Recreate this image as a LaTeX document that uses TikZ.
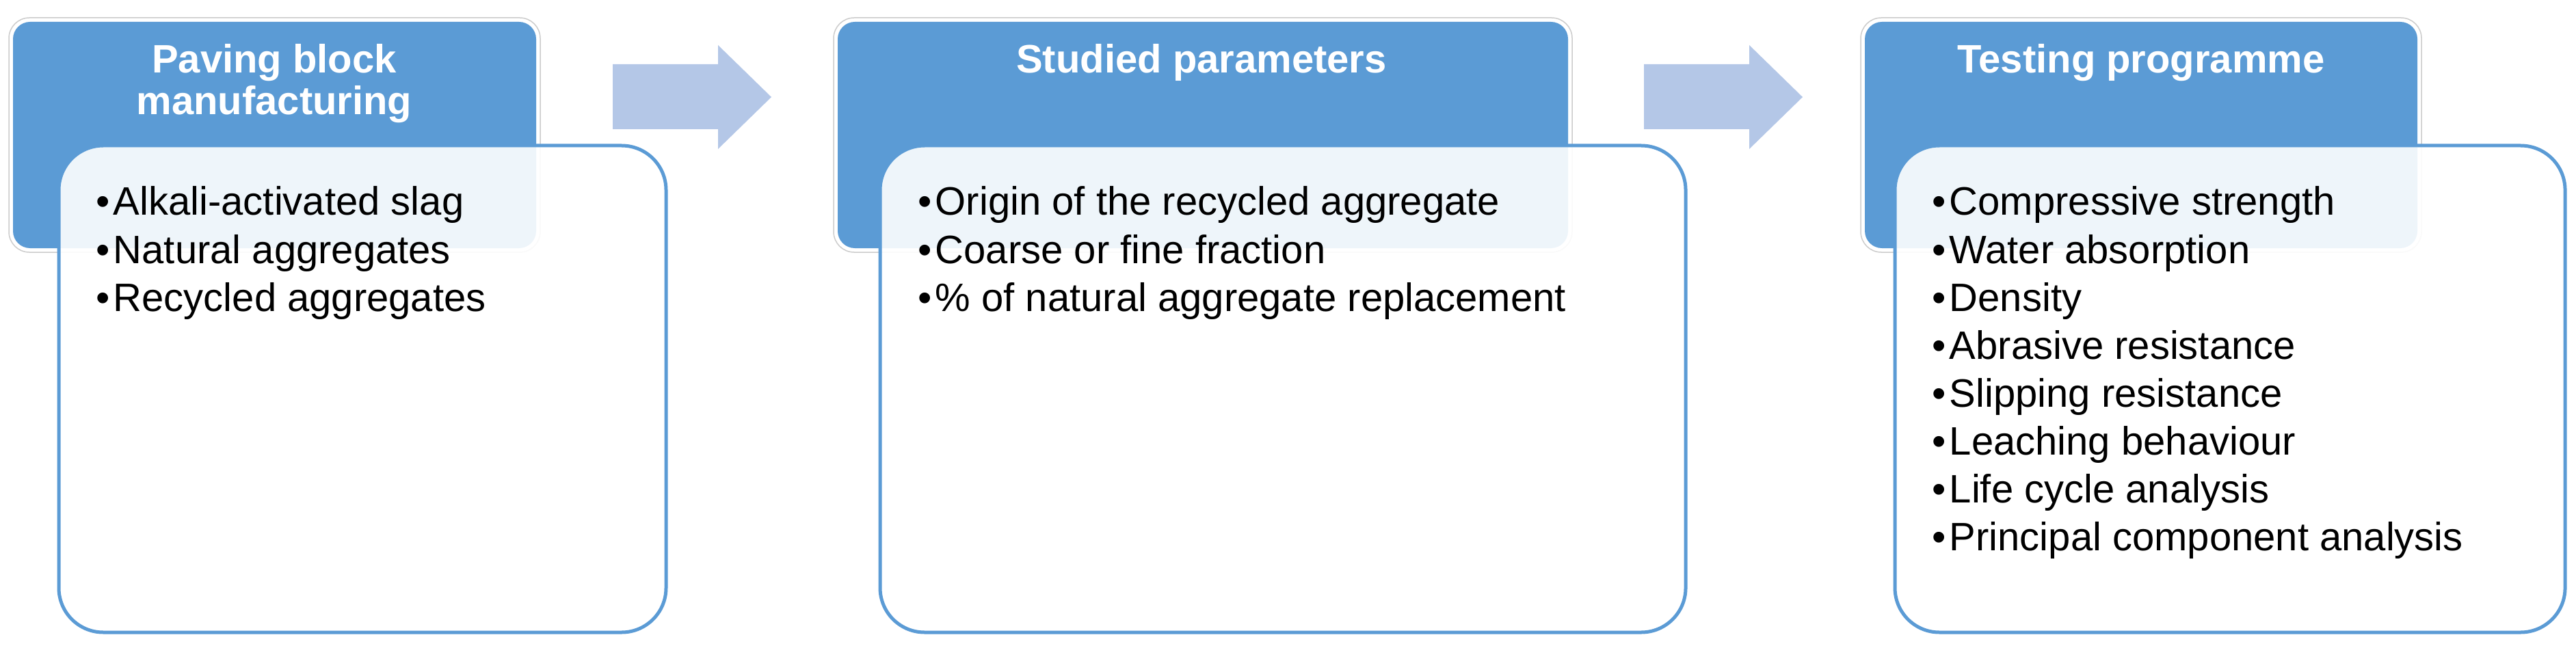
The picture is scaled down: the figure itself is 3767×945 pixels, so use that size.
\documentclass[tikz,border=0pt]{standalone}
\usepackage{fontspec}
\setmainfont{Liberation Sans}
\usetikzlibrary{fit}
\definecolor{hdr}{HTML}{5B9BD5}
\definecolor{arr}{HTML}{B4C7E7}
\begin{document}
\begin{tikzpicture}[x=0.2pt,y=-0.2pt,
  halo/.style={draw=black!20, line width=0.3pt, fill=white, rounded corners=6pt, inner sep=0pt},
  hdrbox/.style={fill=hdr, rounded corners=5pt, inner sep=0pt},
  bodybox/.style={draw=hdr, line width=1pt, fill=white, fill opacity=0.9, rounded corners=13pt, inner sep=0pt},
  hdrtext/.style={text=white, font=\fontsize{11.6pt}{12.2pt}\selectfont\bfseries, anchor=base, inner sep=0pt},
  item/.style={font=\fontsize{11.6pt}{14pt}\selectfont, anchor=base west, inner sep=0pt},
  blockarrow/.style={fill=arr}]
\useasboundingbox (0,0) rectangle (3767,945);
% halos
\node[halo, fit={(13,26) (790,369)}] (g1) {};
\node[halo, fit={(1219,26) (2299,369)}] (g2) {};
\node[halo, fit={(2721,26) (3541,369)}] (g3) {};
% headers
\node[hdrbox, fit={(19,32) (784,363)}] (h1) {};
\node[hdrbox, fit={(1225,32) (2293,363)}] (h2) {};
\node[hdrbox, fit={(2727,32) (3535,363)}] (h3) {};
% block arrows
\fill[blockarrow] (896,94) -- (1050,94) -- (1050,66) -- (1128,142) -- (1050,218) -- (1050,189) -- (896,189) -- cycle;
\fill[blockarrow] (2404,94) -- (2558,94) -- (2558,66) -- (2636,142) -- (2558,218) -- (2558,189) -- (2404,189) -- cycle;
% bodies
\node[bodybox, fit={(86,213) (974,925)}] (p1) {};
\node[bodybox, fit={(1287,213) (2465,925)}] (p2) {};
\node[bodybox, fit={(2771,213) (3751,925)}] (p3) {};
% header texts
\node[hdrtext] (t1a) at (401,107) {Paving block};
\node[hdrtext] (t1b) at (401,168) {manufacturing};
\node[hdrtext] (t2) at (1757,107) {Studied parameters};
\node[hdrtext] (t3) at (3131,107) {Testing programme};
% items
\foreach \t [count=\i] in {Alkali-activated slag, Natural aggregates, Recycled aggregates}
  \node[item] (a\i) at (139,{315+70*(\i-1)}) {•\hspace{1.1pt}\t};
\foreach \t [count=\i] in {Origin of the recycled aggregate, Coarse or fine fraction, \% of natural aggregate replacement}
  \node[item] (b\i) at (1341,{315+70*(\i-1)}) {•\hspace{1.1pt}\t};
\foreach \t [count=\i] in {Compressive strength, Water absorption, Density, Abrasive resistance, Slipping resistance, Leaching behaviour, Life cycle analysis, Principal component analysis}
  \node[item] (c\i) at (2824,{315+70*(\i-1)}) {•\hspace{1.1pt}\t};
\end{tikzpicture}
\end{document}
